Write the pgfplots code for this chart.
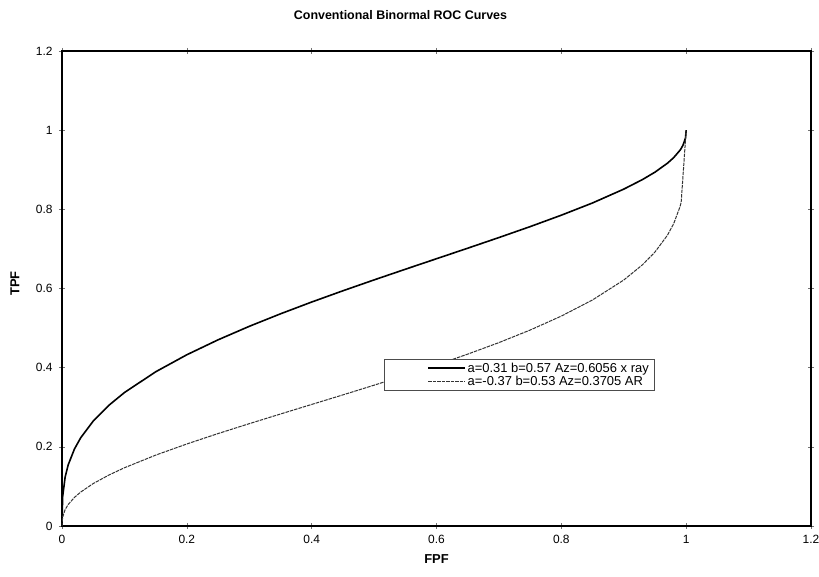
\documentclass[border=0pt]{standalone}
\usepackage{pgfplots}
\pgfplotsset{compat=1.18}
\usepackage{fontspec}
\setmainfont{Liberation Sans}
\begin{document}
\begin{tikzpicture}
\begin{axis}[
  scale only axis,
  width=749bp, height=475bp,
  xmin=0, xmax=1.2, ymin=0, ymax=1.2,
  xtick={0,0.2,0.4,0.6,0.8,1,1.2},
  ytick={0,0.2,0.4,0.6,0.8,1,1.2},
  xticklabels={0,0.2,0.4,0.6,0.8,1,1.2},
  yticklabels={0,0.2,0.4,0.6,0.8,1,1.2},
  tick align=center,
  major tick length=6bp,
  tick style={black!55, line width=0.6bp},
  axis line style={line width=1.7bp},
  ticklabel style={font=\fontsize{12}{14}\selectfont},
  xticklabel style={yshift=-3bp},
  yticklabel style={xshift=-3bp},
  clip=false,
  legend cell align=left,
  legend style={at={(axis cs:0.516,0.421)}, anchor=north west,
    draw=black!70, line width=0.6bp, inner xsep=4bp, inner ysep=1.5bp,
    font=\fontsize{13}{15}\selectfont,
    nodes={inner sep=1.5bp},
    row sep=-0.5bp},
  legend image code/.code={\path[draw=none] (-40bp,0bp) -- (0bp,0bp); \draw[#1] (0bp,0bp) -- (37bp,0bp);},
]
\addplot[black, line width=1.6bp] coordinates {
(0,0) (0.001,0.0733) (0.005,0.1234) (0.01,0.1548) (0.02,0.1947) (0.03,0.2230)
(0.05,0.2651) (0.075,0.3048) (0.1,0.3371) (0.15,0.3895) (0.2,0.4326)
(0.25,0.4703) (0.3,0.5044) (0.35,0.5360) (0.4,0.5658) (0.45,0.5942)
(0.5,0.6217) (0.55,0.6486) (0.6,0.6752) (0.65,0.7018) (0.7,0.7287)
(0.75,0.7563) (0.8,0.7852) (0.85,0.8161) (0.9,0.8510) (0.93,0.8752)
(0.95,0.8939) (0.97,0.9165) (0.98,0.9306) (0.99,0.9491) (0.992,0.9538)
(0.995,0.9623) (0.999,0.9808) (1,1)
};
\addlegendentry{a=0.31 b=0.57 Az=0.6056 x ray}
\addplot[black!80, line width=1bp, dash pattern=on 3.5bp off 1bp] coordinates {
(0,0) (0.001,0.0223) (0.005,0.0414) (0.01,0.0545) (0.02,0.0723) (0.03,0.0858)
(0.05,0.1072) (0.075,0.1286) (0.1,0.1471) (0.15,0.1790) (0.2,0.2072)
(0.25,0.2335) (0.3,0.2585) (0.35,0.2829) (0.4,0.3071) (0.45,0.3312)
(0.5,0.3557) (0.55,0.3808) (0.6,0.4068) (0.65,0.4342) (0.7,0.4633)
(0.75,0.4950) (0.8,0.5303) (0.85,0.5711) (0.9,0.6214) (0.93,0.6599)
(0.95,0.6921) (0.97,0.7346) (0.98,0.7638) (0.99,0.8059) (0.992,0.8177)
(1,1)
};
\addlegendentry{a=-0.37 b=0.53 Az=0.3705 AR}
\node[font=\bfseries\fontsize{12.5}{14}\selectfont] at ([shift={(-36bp,36bp)}]rel axis cs:0.5,1) {Conventional Binormal ROC Curves};
\node[font=\bfseries\fontsize{13}{15}\selectfont] at ([shift={(0bp,-33bp)}]rel axis cs:0.5,0) {FPF};
\node[font=\bfseries\fontsize{13}{15}\selectfont, rotate=90] at ([shift={(-47bp,5bp)}]rel axis cs:0,0.5) {TPF};
\end{axis}
\pgfresetboundingbox
\path ([shift={(-62bp,-51bp)}]current axis.south west) rectangle ([shift={(8bp,51bp)}]current axis.north east);
\end{tikzpicture}
\end{document}
